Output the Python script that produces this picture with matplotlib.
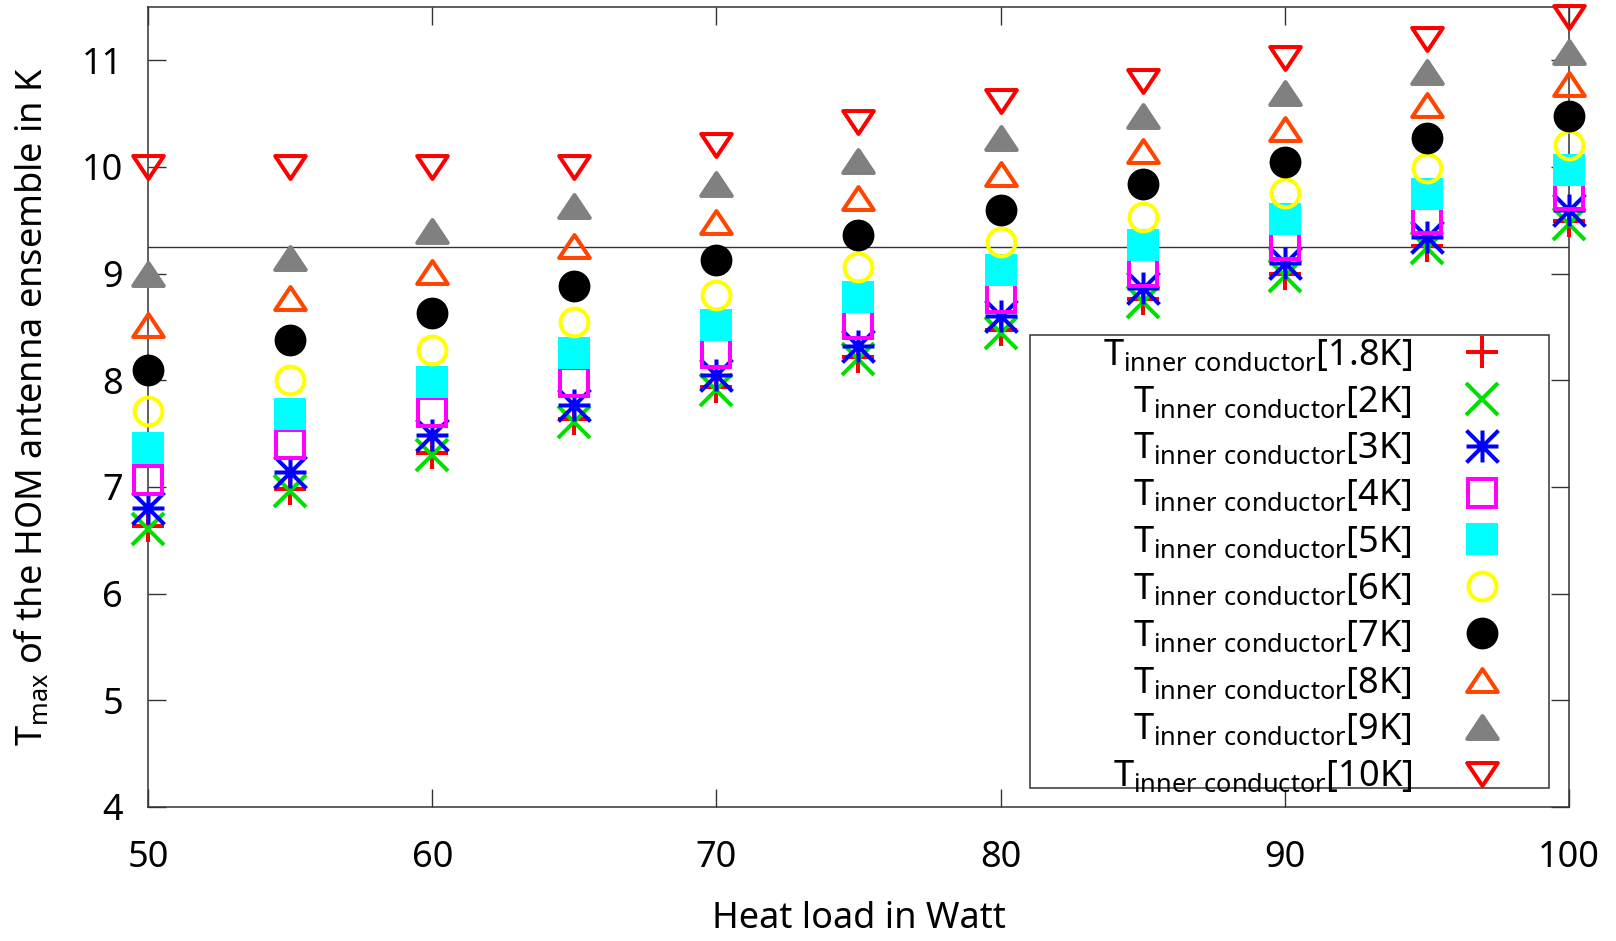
import matplotlib
matplotlib.use('Agg')
import matplotlib.pyplot as plt
from matplotlib.path import Path
from matplotlib.patches import Rectangle

plt.rcParams['font.family'] = ['Noto Sans', 'DejaVu Sans']
plt.rcParams['mathtext.fontset'] = 'custom'
plt.rcParams['mathtext.rm'] = 'Noto Sans'
plt.rcParams['mathtext.it'] = 'Noto Sans'

heat_load = [50, 55, 60, 65, 70, 75, 80, 85, 90, 95, 100]

t_1k8 = [6.63, 6.98, 7.32, 7.64, 7.94, 8.22, 8.47, 8.76, 9.00, 9.26, 9.49]
t_2k = [6.61, 6.96, 7.30, 7.61, 7.91, 8.20, 8.44, 8.73, 8.98, 9.24, 9.47]
t_3k = [6.80, 7.14, 7.49, 7.77, 8.05, 8.32, 8.60, 8.87, 9.10, 9.34, 9.60]
t_4k = [7.07, 7.40, 7.70, 7.98, 8.26, 8.53, 8.77, 9.02, 9.27, 9.51, 9.74]
t_5k = [7.37, 7.68, 7.98, 8.26, 8.52, 8.78, 9.03, 9.27, 9.51, 9.75, 9.97]
t_6k = [7.71, 8.00, 8.28, 8.55, 8.80, 9.06, 9.30, 9.53, 9.76, 9.99, 10.21]
t_7k = [8.10, 8.38, 8.63, 8.88, 9.13, 9.36, 9.60, 9.84, 10.05, 10.27, 10.48]
t_8k = [8.52, 8.77, 9.02, 9.26, 9.48, 9.71, 9.93, 10.15, 10.36, 10.58, 10.78]
t_9k = [9.00, 9.15, 9.40, 9.63, 9.84, 10.06, 10.27, 10.48, 10.69, 10.89, 11.08]
t_10k = [10.0, 10.0, 10.0, 10.0, 10.21, 10.42, 10.62, 10.81, 11.02, 11.20, 11.41]

inner_temps = ['1.8K', '2K', '3K', '4K', '5K', '6K', '7K', '8K', '9K', '10K']
limit_line = 9.25

# gnuplot-like point types
asterisk = Path([(-1, 0), (1, 0), (0, -1), (0, 1), (-1, -1), (1, 1), (-1, 1), (1, -1)],
                [Path.MOVETO, Path.LINETO] * 4)
tri_up = Path([(0, 0.75), (-1, -0.75), (1, -0.75), (0, 0.75)], closed=True)
tri_down = Path([(0, -0.75), (-1, 0.75), (1, 0.75), (0, -0.75)], closed=True)

# (marker, color, filled, size)
styles = [
    ('+', '#ff0000', False, 23),
    ('x', '#00e000', False, 23),
    (asterisk, '#0000ff', False, 23),
    ('s', '#ff00ff', False, 20),
    ('s', '#00ffff', True, 20),
    ('o', '#ffff00', False, 20),
    ('o', '#000000', True, 20),
    (tri_up, '#ff4500', False, 22),
    (tri_up, '#808080', True, 22),
    (tri_down, '#ff0000', False, 22),
]
series = [t_1k8, t_2k, t_3k, t_4k, t_5k, t_6k, t_7k, t_8k, t_9k, t_10k]

fig = plt.figure(figsize=(16.16, 9.41), dpi=100)
ax = fig.add_axes([148 / 1616, 1 - 807 / 941, 1421 / 1616, 800 / 941])

fs = 26
for i, (vals, (mk, col, filled, ms), lab) in enumerate(zip(series, styles, inner_temps)):
    ax.plot(heat_load, vals, linestyle='none', marker=mk, markersize=ms,
            markeredgewidth=2.9, markeredgecolor=col,
            markerfacecolor=col if filled else 'none',
            clip_on=False, zorder=3 + i,
            label=r'T$_{\rm inner\ conductor}$[' + lab + ']')

ax.axhline(limit_line, color='#333333', lw=1.0, zorder=2)

ax.set_xlim(50, 100)
ax.set_ylim(4, 11.5)
ax.set_xticks([50, 60, 70, 80, 90, 100])
ax.set_yticks([4, 5, 6, 7, 8, 9, 10, 11])
ax.tick_params(direction='in', length=13, width=1.0, top=True, right=True,
               labelsize=fs, color='#333333')
ax.tick_params(axis='x', pad=24)
ax.tick_params(axis='y', pad=18)
for s in ax.spines.values():
    s.set_linewidth(1.1)
    s.set_color('#333333')

ax.set_xlabel('Heat load in Watt', fontsize=fs, labelpad=18)
ax.set_ylabel(r'T$_{\rm max}$ of the HOM antenna ensemble in K', fontsize=fs, labelpad=22)

leg = ax.legend(loc='upper right', bbox_to_anchor=(0.978, 0.5865), frameon=False,
                markerfirst=False, fontsize=fs, handlelength=3.1, handletextpad=0.38,
                borderpad=0, labelspacing=0.3, borderaxespad=0)
leg.set_zorder(20)
ax.add_patch(Rectangle((0.621, 0.024), 0.365, 0.566, transform=ax.transAxes,
                       facecolor='white', edgecolor='#333333', lw=1.1, zorder=19))

fig.savefig('out.png', dpi=100)
